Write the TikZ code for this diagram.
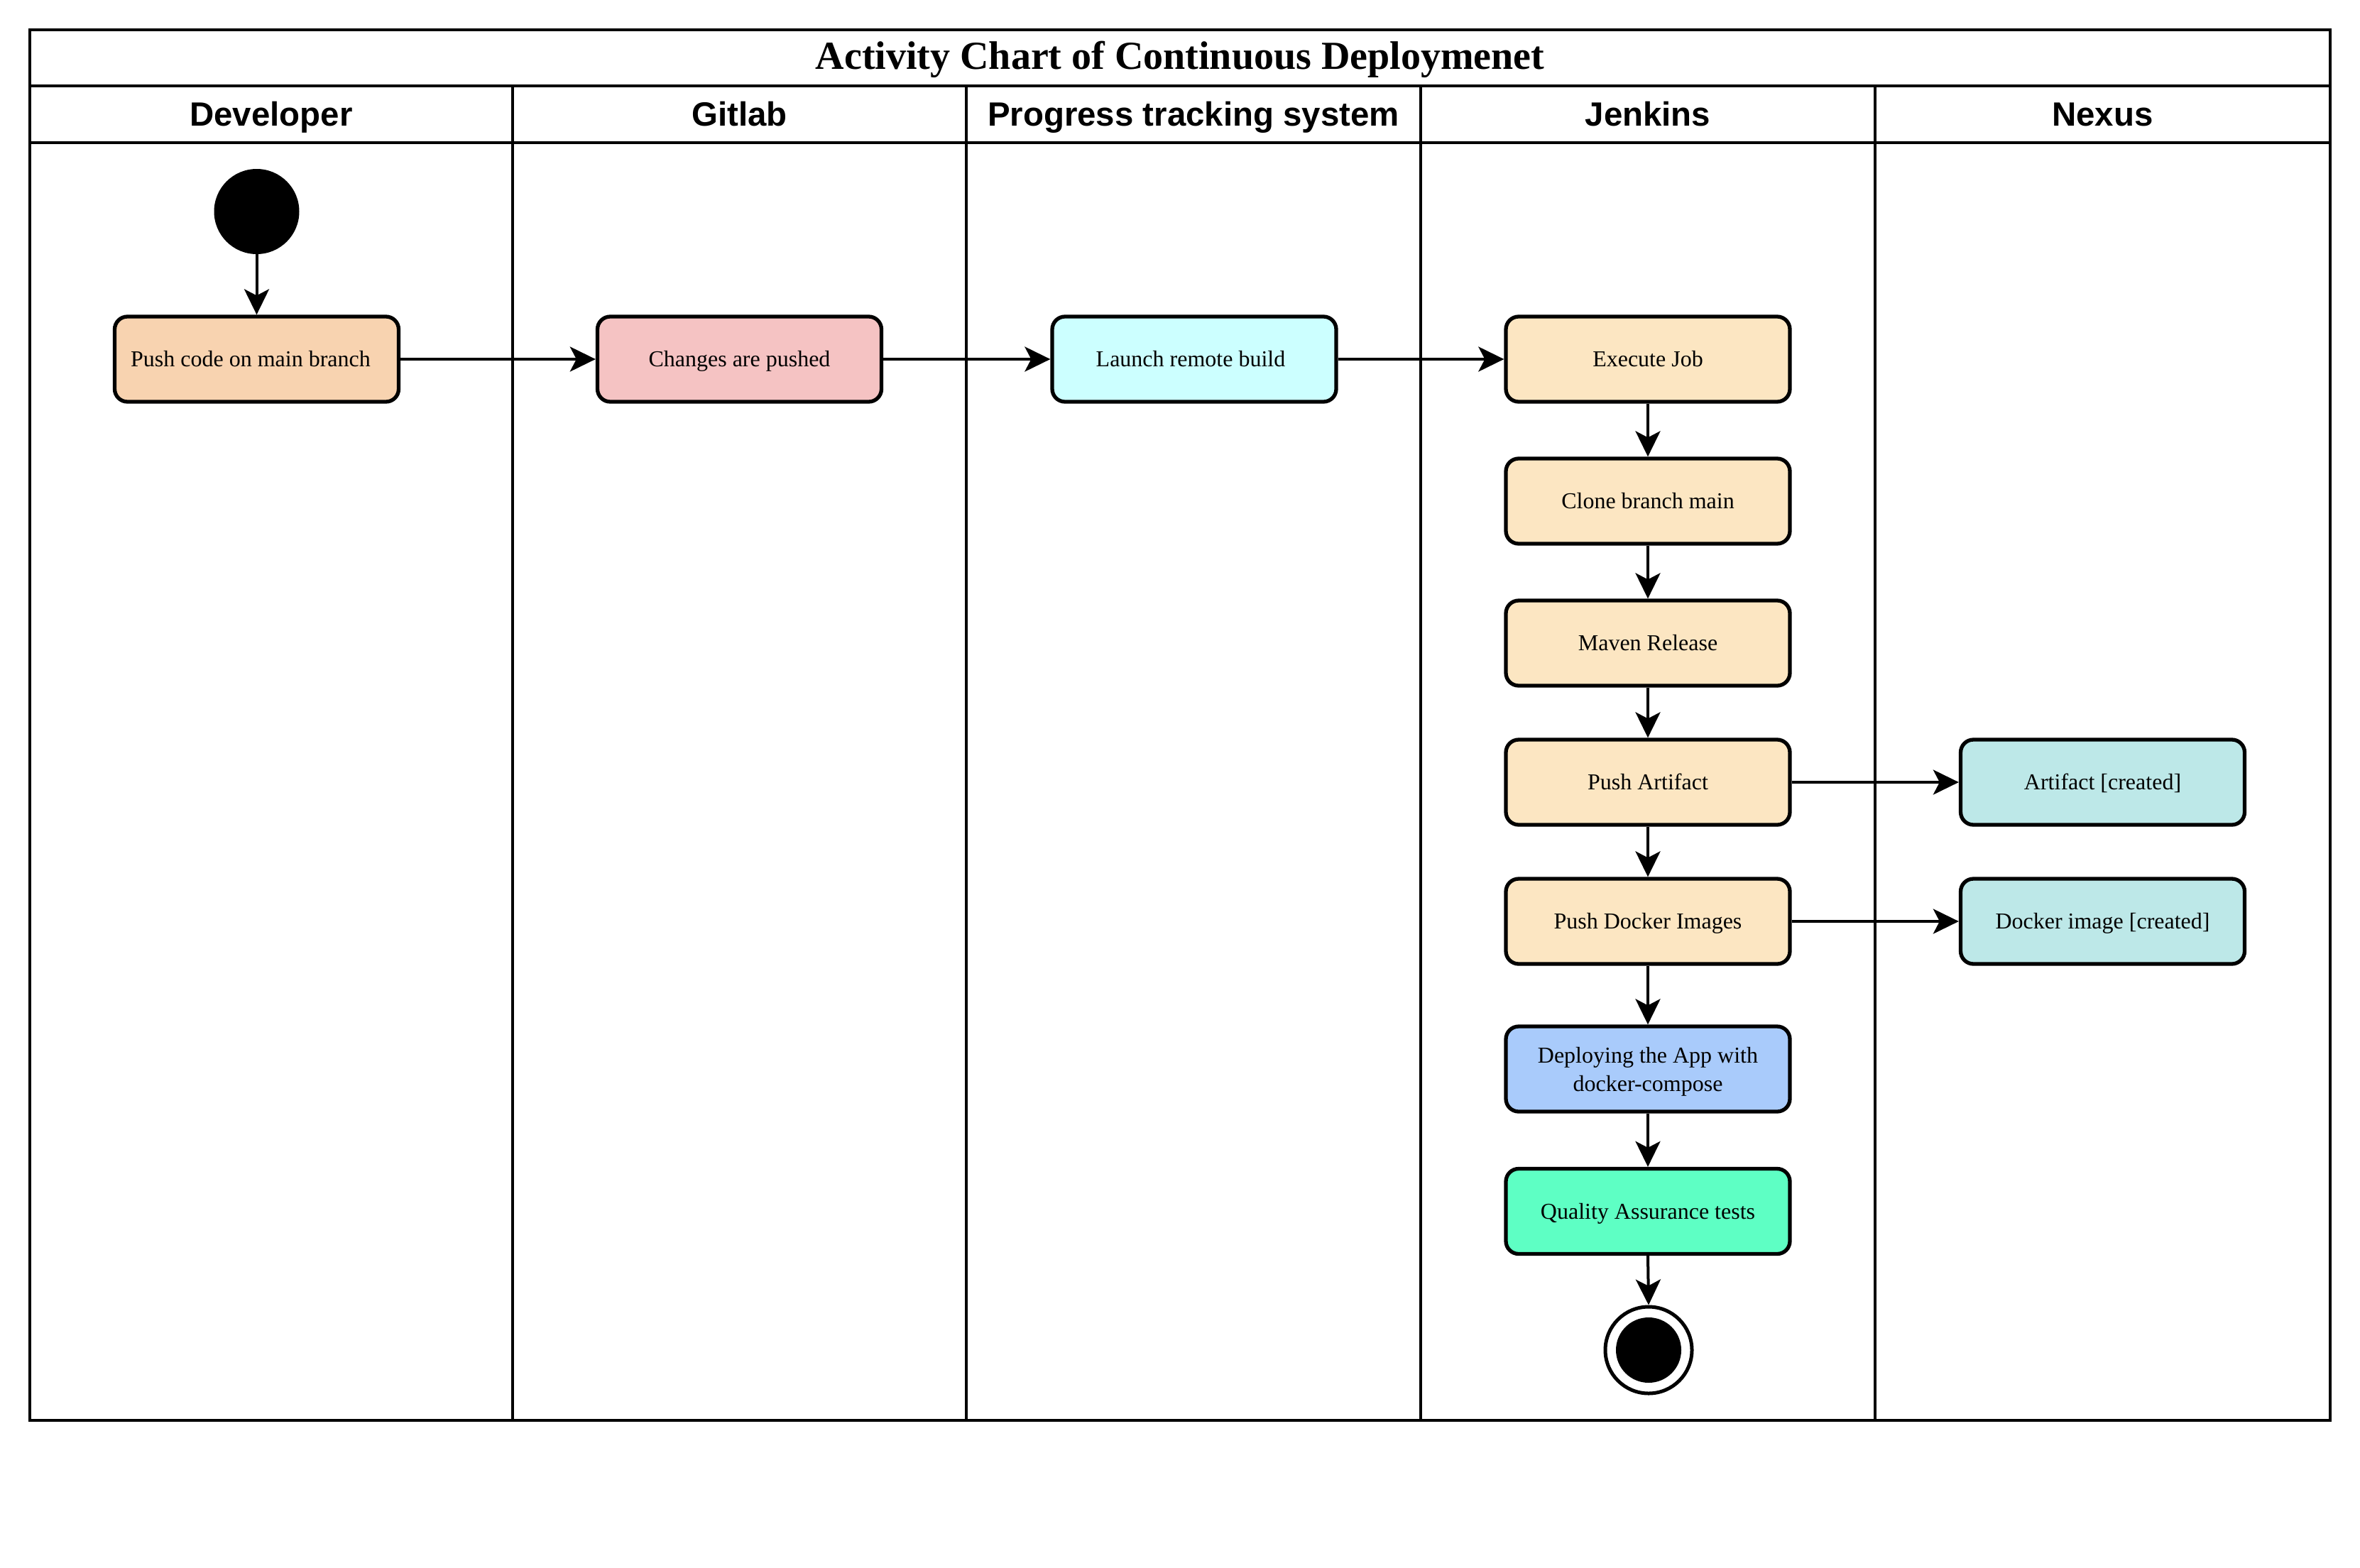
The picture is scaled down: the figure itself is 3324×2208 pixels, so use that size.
\documentclass[tikz,border=0pt]{standalone}
\usepackage{fontspec}
\setmainfont{Liberation Serif}
\newfontfamily\hdrfont{Liberation Sans}
\usetikzlibrary{arrows.meta}
\definecolor{cPush}{HTML}{F8D3B0}
\definecolor{cGit}{HTML}{F5C3C3}
\definecolor{cLaunch}{HTML}{CCFFFF}
\definecolor{cJen}{HTML}{FCE6C2}
\definecolor{cNex}{HTML}{BDE8E8}
\definecolor{cDep}{HTML}{A9CBFB}
\definecolor{cQA}{HTML}{5EFFC4}
\tikzset{
  actbox/.style={draw, line width=5.3pt, rounded corners=18pt, minimum width=400pt,
    minimum height=120pt, inner sep=0pt, align=center,
    font=\fontsize{32}{40}\selectfont},
  act/.style={actbox, text height=28pt, text depth=7pt},
  arr/.style={line width=4pt, -{Stealth[length=36pt, width=35pt, inset=9pt]}},
  frameline/.style={line width=4.5pt},
  laneline/.style={line width=3.5pt},
  hdr/.style={font=\hdrfont\bfseries\fontsize{47.4}{50}\selectfont, inner sep=0pt, anchor=base},
}
\begin{document}
\begin{tikzpicture}[x=1pt,y=-1pt]
\useasboundingbox (0,0) rectangle (3324,2208);
\fill[white] (0,0) rectangle (3324,2208);
% frame and lanes
\draw[frameline] (42,42) rectangle (3282,2001);
\draw[laneline] (42,121) -- (3282,121);
\draw[laneline] (42,201) -- (3282,201);
\foreach \lx in {722,1361,2001,2641} {
  \draw[laneline] (\lx,121) -- (\lx,2001);
}
\node[font=\bfseries\fontsize{56}{60}\selectfont, inner sep=0pt] (title) at (1662,84) {Activity Chart of Continuous Deploymenet};
\node[hdr] (hdev) at (382,177) {Developer};
\node[hdr] (hgit) at (1041.5,177) {Gitlab};
\node[hdr] (hpts) at (1681,177) {Progress tracking system};
\node[hdr] (hjen) at (2321,177) {Jenkins};
\node[hdr] (hnex) at (2961.5,177) {Nexus};
% start node
\node[circle, fill=black, minimum size=120pt, inner sep=0pt] (start) at (361.5,298) {};
% activities
\node[act, fill=cPush] (push) at (361.5,506) {Push code on main branch\hspace*{17pt}};
\node[act, fill=cGit] (changes) at (1041.5,506) {Changes are pushed};
\node[act, fill=cLaunch] (launch) at (1682,506) {Launch remote build\hspace*{10pt}};
\node[act, fill=cJen] (exec) at (2321,506) {Execute Job};
\node[act, fill=cJen] (clone) at (2321,706) {Clone branch main};
\node[act, fill=cJen] (maven) at (2321,906) {Maven Release};
\node[act, fill=cJen] (partifact) at (2321,1102) {Push Artifact};
\node[act, fill=cJen] (pdocker) at (2321,1298) {Push Docker Images};
\node[actbox, fill=cDep] (deploy) at (2321,1506) {};
\node[inner sep=0pt, align=center, font=\fontsize{32}{40}\selectfont] (deploytxt) at ([yshift=-4pt]deploy.center) {Deploying the App with\\docker-compose};
\node[act, fill=cQA] (qa) at (2321,1706.5) {Quality Assurance tests};
\node[act, fill=cNex] (artifact) at (2961.5,1102) {Artifact [created]};
\node[act, fill=cNex] (dimage) at (2961.5,1298) {Docker image [created]};
% end node
\node[circle, draw, fill=white, line width=5pt, minimum size=122pt, inner sep=0pt] (end) at (2322,1902) {};
\node[circle, fill=black, minimum size=92pt, inner sep=0pt] (endin) at (end.center) {};
% connectors
\draw[arr] (start) -- (push);
\draw[arr] (push) -- (changes);
\draw[arr] (changes) -- (launch);
\draw[arr] (launch) -- (exec);
\draw[arr] (exec) -- (clone);
\draw[arr] (clone) -- (maven);
\draw[arr] (maven) -- (partifact);
\draw[arr] (partifact) -- (pdocker);
\draw[arr] (pdocker) -- (deploy);
\draw[arr] (deploy) -- (qa);
\draw[arr] (qa.south) -- (end.north);
\draw[arr] (partifact) -- (artifact);
\draw[arr] (pdocker) -- (dimage);
\end{tikzpicture}
\end{document}
